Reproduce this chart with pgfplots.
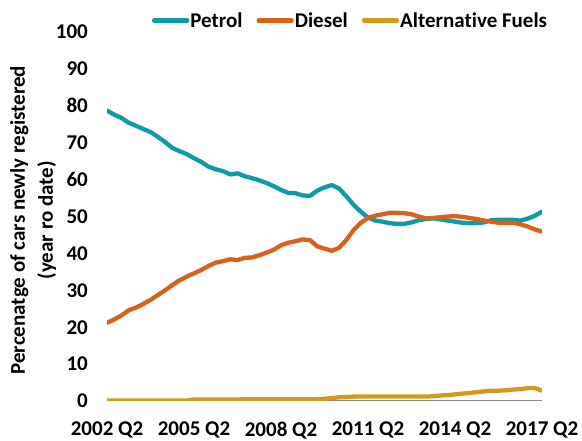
\documentclass[border=0pt]{standalone}
\usepackage{fontspec}
\setmainfont{Carlito}[Ligatures=NoCommon]
\usepackage{pgfplots}
\usepackage{pgfplotstable}
\pgfplotsset{compat=1.18}
\definecolor{petrol}{RGB}{14,155,168}
\definecolor{diesel}{RGB}{216,98,28}
\definecolor{altf}{RGB}{212,153,26}
\definecolor{axgray}{RGB}{134,134,134}
\pgfplotstableread{
i petrol diesel alt
0 78.7 21.2 0.1
1 77.6 22.1 0.1
2 76.7 23.2 0.1
3 75.4 24.6 0.1
4 74.6 25.3 0.1
5 73.7 26.3 0.1
6 72.9 27.4 0.1
7 71.6 28.7 0.1
8 70.2 30.0 0.1
9 68.6 31.4 0.1
10 67.7 32.7 0.1
11 66.9 33.7 0.1
12 65.8 34.6 0.4
13 64.8 35.5 0.4
14 63.5 36.6 0.4
15 62.8 37.5 0.4
16 62.3 37.9 0.4
17 61.4 38.4 0.4
18 61.7 38.2 0.4
19 60.9 38.8 0.5
20 60.4 38.9 0.5
21 59.8 39.5 0.5
22 59.1 40.2 0.5
23 58.2 41.0 0.5
24 57.2 42.2 0.5
25 56.4 42.9 0.5
26 56.3 43.3 0.5
27 55.7 43.8 0.5
28 55.6 43.6 0.5
29 57.0 41.9 0.5
30 57.9 41.3 0.6
31 58.5 40.7 0.8
32 57.6 41.5 1.0
33 55.5 43.6 1.1
34 53.2 46.3 1.2
35 51.3 48.3 1.2
36 49.7 49.6 1.2
37 48.9 50.2 1.2
38 48.6 50.6 1.2
39 48.2 51.0 1.2
40 48.0 51.0 1.2
41 48.0 50.9 1.2
42 48.4 50.6 1.2
43 49.0 50.0 1.2
44 49.3 49.5 1.2
45 49.5 49.6 1.3
46 49.2 49.8 1.5
47 48.9 50.0 1.6
48 48.6 50.1 1.8
49 48.3 49.9 2.0
50 48.2 49.6 2.2
51 48.2 49.3 2.4
52 48.4 48.9 2.6
53 49.0 48.6 2.8
54 49.1 48.3 2.8
55 49.1 48.3 2.9
56 49.1 48.3 3.1
57 48.9 47.9 3.2
58 49.4 47.3 3.5
59 50.2 46.5 3.5
60 51.3 45.9 2.8
}\datatable
\begin{document}
\begin{tikzpicture}
\useasboundingbox (0,0) rectangle (582bp,441bp);
\begin{axis}[
  at={(107bp,40bp)}, anchor=south west,
  scale only axis,
  width=435bp, height=369bp,
  xmin=0, xmax=60, ymin=0, ymax=100,
  axis line style={draw=none},
  tick style={draw=none},
  ytick={0,10,...,100},
  xtick={0,12,24,36,48,60},
  xticklabels={2002 Q2,2005 Q2,2008 Q2,2011 Q2,2014 Q2,2017 Q2},
  /pgf/number format/assume math mode=true,
  ticklabel style={font=\bfseries\fontsize{21bp}{25bp}\selectfont, inner sep=0pt},
  yticklabel style={anchor=east, xshift=-19bp},
  xticklabel style={anchor=north, yshift=-21bp},
  ylabel={Percenatge of cars newly registered\\(year ro date)},
  ylabel style={at={(axis description cs:-0.170,0.49)}, anchor=center, align=center,
    font=\bfseries\fontsize{21bp}{28bp}\selectfont},
  legend columns=3,
  legend style={at={(axis description cs:0.103,1.031)}, anchor=west, draw=none, fill=none,
    inner sep=0pt, font=\bfseries\fontsize{21bp}{25bp}\selectfont,
    /tikz/every even column/.append style={column sep=13bp},
    nodes={inner sep=1bp}},
  legend image code/.code={\draw[#1] (0bp,0bp) -- (33bp,0bp);},
  every axis plot/.append style={line width=4.3bp, line join=round, line cap=round},
]
\draw[axgray, line width=1bp] (axis cs:0,0) -- (axis cs:60,0);
\addplot[petrol, mark=none] table[x=i, y=petrol] {\datatable};
\addlegendentry{Petrol}
\addplot[diesel, mark=none] table[x=i, y=diesel] {\datatable};
\addlegendentry{Diesel}
\addplot[altf, mark=none] table[x=i, y=alt] {\datatable};
\addlegendentry{Alternative Fuels}
\end{axis}
\end{tikzpicture}
\end{document}
